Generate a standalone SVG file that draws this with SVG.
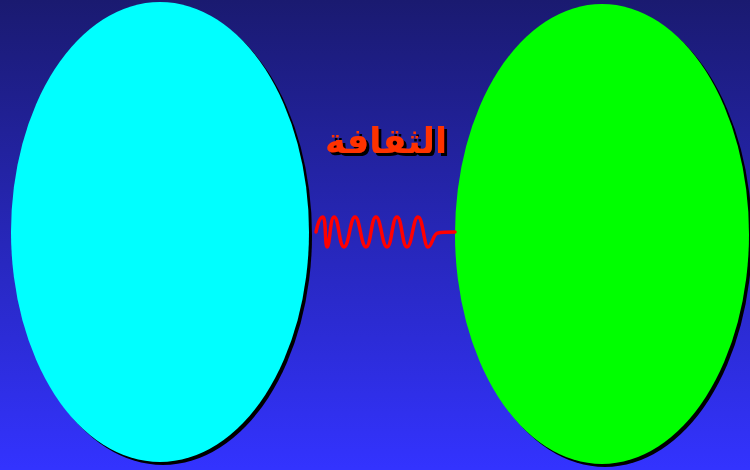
<svg xmlns="http://www.w3.org/2000/svg" width="750" height="470" viewBox="0 0 750 470">
  <defs>
    <linearGradient id="bg" x1="0" y1="0" x2="0" y2="1">
      <stop offset="0" stop-color="#1a1a70"/>
      <stop offset="1" stop-color="#3333ff"/>
    </linearGradient>
    <filter id="ts" x="-10%" y="-20%" width="130%" height="150%">
      <feDropShadow dx="3" dy="3" stdDeviation="0" flood-color="#000000" flood-opacity="1"/>
    </filter>
  </defs>
  <style>
    .shadow { fill: #000000; }
    .label { font-family: "DejaVu Sans", "Noto Sans", sans-serif; font-weight: bold; font-size: 35px; text-anchor: middle; fill: #ff3300; }
    .wave { fill: none; stroke: #ff0000; stroke-width: 3.5; stroke-linejoin: round; stroke-linecap: round; }
  </style>
  <rect width="750" height="470" fill="url(#bg)"/>
  <g id="left-ellipse">
    <ellipse class="shadow" cx="163" cy="235" rx="149" ry="230"/>
    <ellipse cx="160" cy="232" rx="149" ry="230" fill="#00ffff"/>
  </g>
  <g id="right-ellipse">
    <ellipse class="shadow" cx="605" cy="237" rx="147" ry="230"/>
    <ellipse cx="602" cy="234" rx="147" ry="230" fill="#00ff00"/>
  </g>
  <g id="label">
    <text class="label" x="386" y="153" filter="url(#ts)">الثقافة</text>
  </g>
  <g id="connectors">
    <path class="wave" d="M316,232 C318,222 320,217 323,217 C326,217 325,247 327,247 C330,247 330,217 334,217 C339,217 339,247 344,247 C349,247 350,217 355,217 C360,217 361,247 366,247 C371,247 371,217 376,217 C381,217 382,247 387,247 C392,247 392,217 397,217 C402,217 402,247 407,247 C412,247 413,217 418,217 C423,217 424,247 428,247 C432,247 433,233 438,233 C442,232 447,232 455,232"/>
  </g>
</svg>
